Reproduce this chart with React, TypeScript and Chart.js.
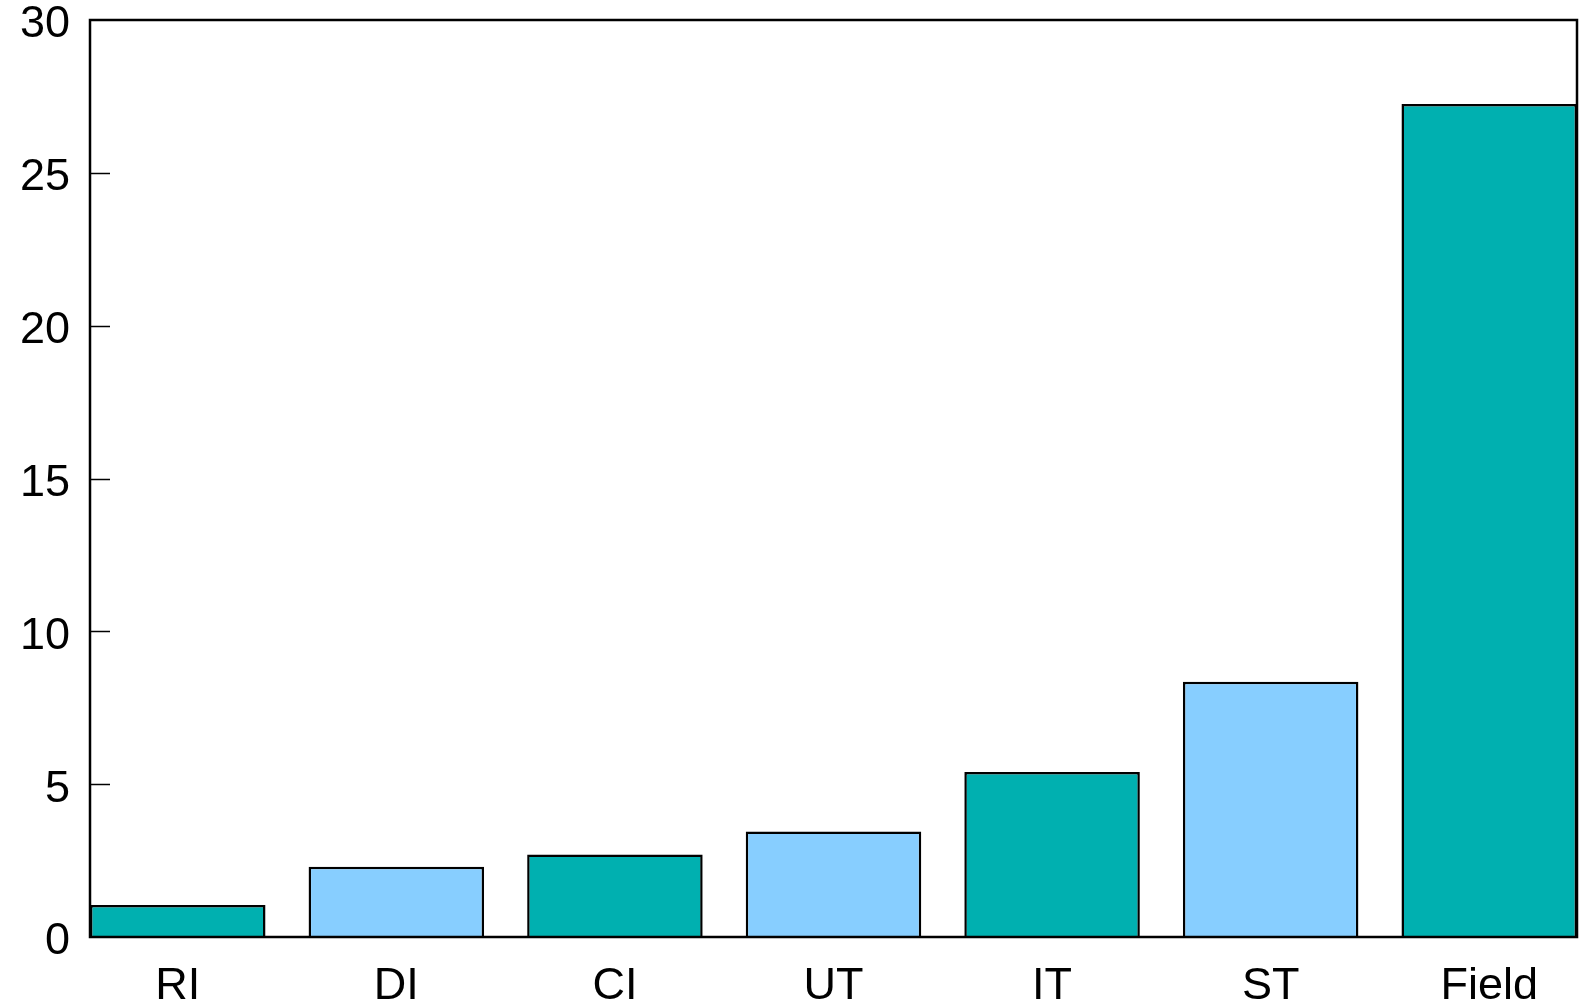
import React, { useEffect, useRef } from "react";
import { Chart, registerables } from "chart.js";

Chart.register(...registerables);

// ---- data ----
const CATEGORIES = ["RI", "DI", "CI", "UT", "IT", "ST", "Field"];
const VALUES = [1.05, 2.3, 2.7, 3.45, 5.4, 8.35, 27.25];
const TEAL = "#00B0B0";
const LIGHT_BLUE = "#87CEFF";
const BAR_COLORS = [TEAL, LIGHT_BLUE, TEAL, LIGHT_BLUE, TEAL, LIGHT_BLUE, TEAL];
const Y_MIN = 0;
const Y_MAX = 30;
const Y_STEP = 5;

// ---- style ----
const W = 1581;
const H = 1005;
const BAR_FRACTION = 0.803; // bar width / bar spacing
const FONT_FAMILY = '"Liberation Sans", Arial, Helvetica, sans-serif';
const FONT_SIZE = 45;

const framePlugin = {
  id: "frameAndInnerTicks",
  afterDatasetsDraw(chart: any) {
    const { ctx, chartArea } = chart;
    const y = chart.scales.y;
    ctx.save();
    ctx.strokeStyle = "#000";
    // inner tick marks on left axis
    ctx.lineWidth = 1.5;
    y.ticks.forEach((t: any) => {
      if (t.value === Y_MIN || t.value === Y_MAX) return;
      const py = Math.round(y.getPixelForValue(t.value)) + 0.5;
      ctx.beginPath();
      ctx.moveTo(chartArea.left, py);
      ctx.lineTo(chartArea.left + 20, py);
      ctx.stroke();
    });
    // frame
    ctx.lineWidth = 2.5;
    ctx.strokeRect(chartArea.left, chartArea.top, chartArea.right - chartArea.left, chartArea.bottom - chartArea.top);
    ctx.restore();
  },
};

export default function App() {
  const ref = useRef<HTMLCanvasElement | null>(null);

  useEffect(() => {
    document.body.style.margin = "0";
    const canvas = ref.current;
    if (!canvas) return;
    const n = CATEGORIES.length;
    const chart = new Chart(canvas, {
      type: "bar",
      data: {
        datasets: [
          {
            data: VALUES.map((v, i) => ({ x: i, y: v })),
            backgroundColor: BAR_COLORS,
            borderColor: "#000",
            borderWidth: 2.5,
            categoryPercentage: 1,
            barPercentage: BAR_FRACTION,
          } as any,
        ],
      },
      options: {
        animation: false,
        responsive: false,
        devicePixelRatio: 1,
        layout: { padding: { top: 20, right: 4, bottom: 0, left: 0 } },
        plugins: { legend: { display: false }, tooltip: { enabled: false } },
        scales: {
          x: {
            type: "linear",
            offset: false,
            min: -BAR_FRACTION / 2,
            max: n - 1 + BAR_FRACTION / 2,
            grid: { display: false, drawTicks: false },
            border: { display: false },
            ticks: {
              stepSize: 1,
              includeBounds: false,
              autoSkip: false,
              maxRotation: 0,
              padding: 27,
              color: "#000",
              font: { family: FONT_FAMILY, size: FONT_SIZE, lineHeight: 1 },
              callback: (v: any) => (Number.isInteger(v) && CATEGORIES[v] !== undefined ? CATEGORIES[v] : ""),
            },
            afterFit: (s: any) => {
              s.height = 68;
              s.paddingLeft = 0;
              s.paddingRight = 0;
            },
          } as any,
          y: {
            min: Y_MIN,
            max: Y_MAX,
            grid: { display: false, drawTicks: false },
            border: { display: false },
            ticks: {
              stepSize: Y_STEP,
              padding: 20,
              labelOffset: 5,
              color: "#000",
              font: { family: FONT_FAMILY, size: FONT_SIZE, lineHeight: 1 },
            },
            afterFit: (s: any) => {
              s.width = 90;
              s.paddingTop = 0;
              s.paddingBottom = 0;
            },
          } as any,
        },
      },
      plugins: [framePlugin],
    });
    return () => chart.destroy();
  }, []);

  return (
    <div style={{ position: "absolute", left: 0, top: 0, width: W, height: H, background: "#fff" }}>
      <canvas ref={ref} width={W} height={H} style={{ display: "block", width: W, height: H }} />
    </div>
  );
}
